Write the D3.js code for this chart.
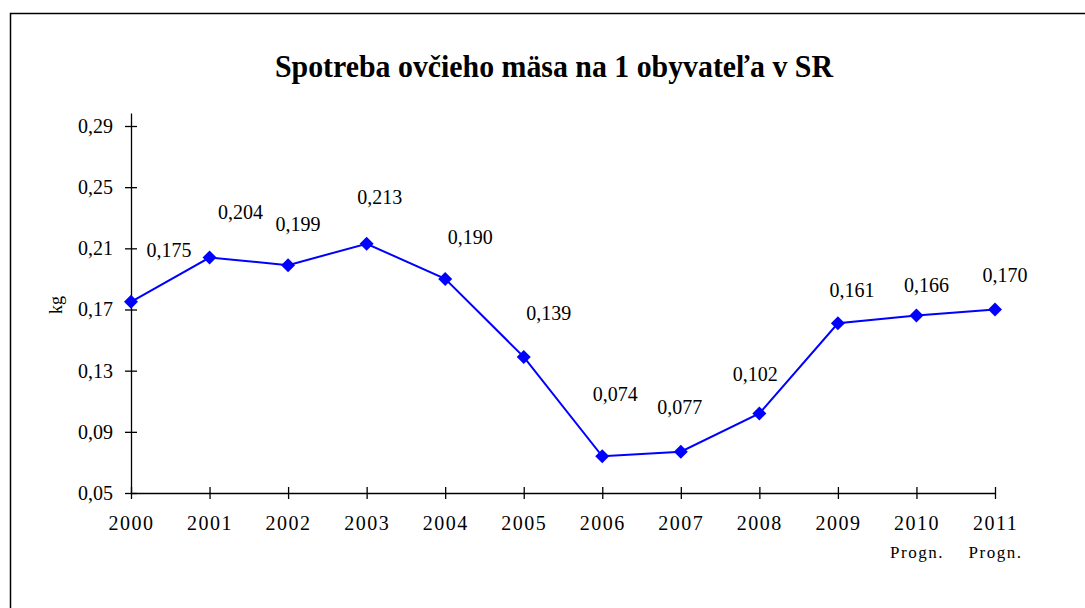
<!DOCTYPE html>
<html><head><meta charset="utf-8">
<script src="https://cdn.jsdelivr.net/npm/d3@7"></script>
<style>body{margin:0;background:#fff}svg{display:block}text{font-family:"Liberation Serif","Times New Roman",serif;fill:#000}</style>
</head><body><svg id="c" width="1085" height="608"></svg>
<script>
const years = ["2000","2001","2002","2003","2004","2005","2006","2007","2008","2009","2010","2011"];
const subLabels = ["","","","","","","","","","","Progn.","Progn."];
const values = [0.175,0.204,0.199,0.213,0.190,0.139,0.074,0.077,0.102,0.161,0.166,0.170];
const yTicks = [0.05,0.09,0.13,0.17,0.21,0.25,0.29];
const title = "Spotreba ovčieho mäsa na 1 obyvateľa v SR";
const yTitle = "kg";
// manual data-label nudges (px), as placed in the original
const labelDx = [38,31,10,13,25,25,13,-1,-4,14,10,10];
const labelDy = [-52,-46,-41,-47,-42,-44,-62,-45,-39,-33,-31,-34];

const svg = d3.select("#c");
svg.append("rect").attr("x",10.5).attr("y",13.5).attr("width",1100).attr("height",700)
  .attr("fill","none").attr("stroke","#000").attr("stroke-width",1.5);

const x = d3.scalePoint().domain(years).range([131,995]);
const y = d3.scaleLinear().domain([0.05,0.2985]).range([493,113]);
const fmt = v => d3.format(".2f")(v).replace(".",",");

svg.append("text").attr("x",554).attr("y",77).attr("text-anchor","middle")
  .attr("textLength",558).attr("lengthAdjust","spacingAndGlyphs")
  .style("font-size","31px").style("font-weight","bold").text(title);

// y axis
const ya = svg.append("g").attr("transform","translate(131,0)")
  .call(d3.axisLeft(y).tickValues(yTicks).tickFormat(fmt).tickSizeInner(6).tickSizeOuter(0).tickPadding(10));
ya.select(".domain").attr("stroke","#000").attr("stroke-width",1.3);
ya.selectAll(".tick line").attr("x2",6).attr("x1",-6).attr("stroke","#000").attr("stroke-width",1.3);
ya.selectAll(".tick text").style("font-size","20px").style("font-family","Liberation Serif").attr("x",-18);

// x axis
const xa = svg.append("g").attr("transform","translate(0,493)")
  .call(d3.axisBottom(x).tickSizeInner(6).tickSizeOuter(0).tickPadding(14));
xa.select(".domain").attr("stroke","#000").attr("stroke-width",1.3);
xa.selectAll(".tick line").attr("y1",-6).attr("y2",6).attr("stroke","#000").attr("stroke-width",1.3);
xa.selectAll(".tick text").style("font-size","20px").style("font-family","Liberation Serif").attr("y",30).attr("dy","0.35em")
  .style("letter-spacing","1.5px");
xa.selectAll(".tick").each(function(d,i){
  if(subLabels[i]) d3.select(this).append("text").attr("y",59).attr("dy","0.35em").attr("text-anchor","middle")
    .style("font-size","17px").style("font-family","Liberation Serif").style("letter-spacing","1.5px").attr("fill","#000").text(subLabels[i]);
});

svg.append("text").attr("transform","translate(56,305) rotate(-90)").attr("text-anchor","middle")
  .attr("dy","0.35em").style("font-size","18px").text(yTitle);

svg.append("path").datum(values)
  .attr("d",d3.line().x((d,i)=>x(years[i])).y(d=>y(d)))
  .attr("fill","none").attr("stroke","#0000ff").attr("stroke-width",2);

svg.selectAll(".mk").data(values).enter().append("path")
  .attr("d",d3.symbol(d3.symbolDiamond2,125)())
  .attr("transform",(d,i)=>`translate(${x(years[i])},${y(d)})`)
  .attr("fill","#0000ff");

svg.selectAll(".lb").data(values).enter().append("text")
  .attr("x",(d,i)=>x(years[i])+labelDx[i]).attr("y",(d,i)=>y(d)+labelDy[i]).attr("dy","0.35em")
  .attr("text-anchor","middle").style("font-size","20px").text(d=>d3.format(".3f")(d).replace(".",","));
</script></body></html>
